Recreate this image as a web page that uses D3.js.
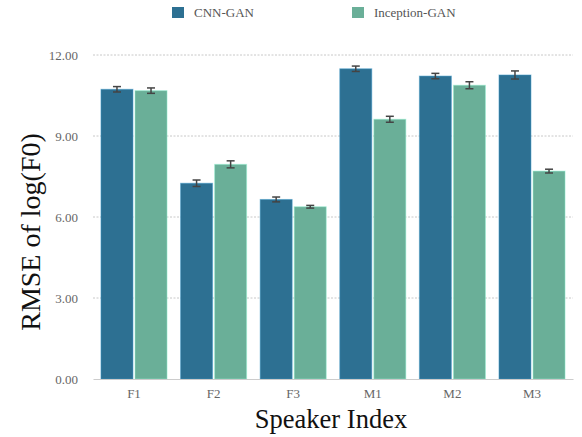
<!DOCTYPE html>
<html>
<head>
<meta charset="utf-8">
<script src="https://cdn.jsdelivr.net/npm/d3@7"></script>
<style>
  html, body { margin: 0; padding: 0; background: #fff; }
  svg { display: block; }
  text { font-family: "Liberation Serif", "Times New Roman", serif; }
</style>
</head>
<body>
<svg id="chart" width="582" height="437"></svg>
<script>
// Speakers and per-model RMSE of log(F0), with error half-widths
const speakers = ["F1", "F2", "F3", "M1", "M2", "M3"];
const models = ["CNN-GAN", "Inception-GAN"];
const cnnGan = [10.73, 7.25, 6.65, 11.49, 11.22, 11.26];
const cnnGanErr = [0.10, 0.12, 0.09, 0.10, 0.10, 0.15];
const inceptionGan = [10.68, 7.95, 6.38, 9.62, 10.88, 7.70];
const inceptionGanErr = [0.10, 0.13, 0.05, 0.11, 0.13, 0.07];
const yTicks = [0, 3, 6, 9, 12];
const colors = ["#2d7092", "#6aaf98"];

const series = [cnnGan, inceptionGan];
const errors = [cnnGanErr, inceptionGanErr];

const FONT = "'Liberation Serif', 'Times New Roman', serif";
const svg = d3.select("#chart");
const margin = { left: 93, right: 9, top: 55, bottom: 58 };
const W = 582, H = 437;
const x0 = d3.scaleBand().domain(speakers).range([margin.left, W - margin.right]).paddingInner(0.17).paddingOuter(0.1);
const x1 = d3.scaleBand().domain(models).range([0, x0.bandwidth()]).paddingInner(0.06);
const y = d3.scaleLinear().domain([0, 12]).range([H - margin.bottom, margin.top]);

// grid
svg.append("g")
  .selectAll("line").data(yTicks.filter(d => d > 0)).join("line")
  .attr("x1", margin.left).attr("x2", W - margin.right)
  .attr("y1", d => y(d)).attr("y2", d => y(d))
  .attr("stroke", "#c8c8c8").attr("stroke-width", 1).attr("stroke-dasharray", "2,1.5");

// y axis labels
const yAxis = d3.axisLeft(y).tickValues(yTicks).tickFormat(d3.format(".2f")).tickSize(0).tickPadding(15);
const gy = svg.append("g").attr("transform", `translate(${margin.left},0)`).call(yAxis);
gy.attr("font-family", FONT);
gy.select(".domain").remove();
gy.selectAll("text").attr("font-size", 13).attr("fill", "#666");

// bars with error bars
const groups = svg.append("g").selectAll("g").data(speakers).join("g")
  .attr("transform", d => `translate(${x0(d)},0)`);
groups.each(function (sp, i) {
  const g = d3.select(this);
  models.forEach((m, j) => {
    const v = series[j][i];
    g.append("rect")
      .attr("x", x1(m)).attr("width", x1.bandwidth())
      .attr("y", y(v)).attr("height", y(0) - y(v))
      .attr("fill", colors[j])
      .attr("stroke", d3.color(colors[j]).brighter(0.9)).attr("stroke-opacity", 0.5).attr("stroke-width", 1);
    const e = errors[j][i];
    const cx = x1(m) + x1.bandwidth() / 2;
    const eg = g.append("g").attr("stroke", "#444").attr("stroke-width", 1.5);
    eg.append("line").attr("x1", cx).attr("x2", cx).attr("y1", y(v - e)).attr("y2", y(v + e));
    eg.append("line").attr("x1", cx - 4).attr("x2", cx + 4).attr("y1", y(v - e)).attr("y2", y(v - e));
    eg.append("line").attr("x1", cx - 4).attr("x2", cx + 4).attr("y1", y(v + e)).attr("y2", y(v + e));
  });
});

// x axis
const xAxis = d3.axisBottom(x0).tickSize(0).tickPadding(10);
const gx = svg.append("g").attr("transform", `translate(0,${y(0)})`).call(xAxis);
gx.attr("font-family", FONT);
gx.select(".domain").attr("stroke", "#ccc").attr("stroke-width", 1.2);
gx.selectAll("text").attr("font-size", 13).attr("fill", "#666");

// axis titles
svg.append("text").attr("x", 331).attr("y", 428)
  .attr("font-family", FONT)
  .attr("text-anchor", "middle").attr("font-size", 26.5).attr("fill", "#111").text("Speaker Index");
svg.append("text").attr("transform", `translate(40,232) rotate(-90)`)
  .attr("font-family", FONT)
  .attr("text-anchor", "middle").attr("font-size", 28).attr("fill", "#111").text("RMSE of log(F0)");

// legend
const legendX = [172, 352];
models.forEach((m, j) => {
  svg.append("rect").attr("x", legendX[j]).attr("y", 7).attr("width", 12).attr("height", 11).attr("fill", colors[j]);
  svg.append("text").attr("x", legendX[j] + 22).attr("y", 17).attr("font-family", FONT)
    .attr("font-size", 13).attr("fill", "#555").text(m);
});
</script>
</body>
</html>
